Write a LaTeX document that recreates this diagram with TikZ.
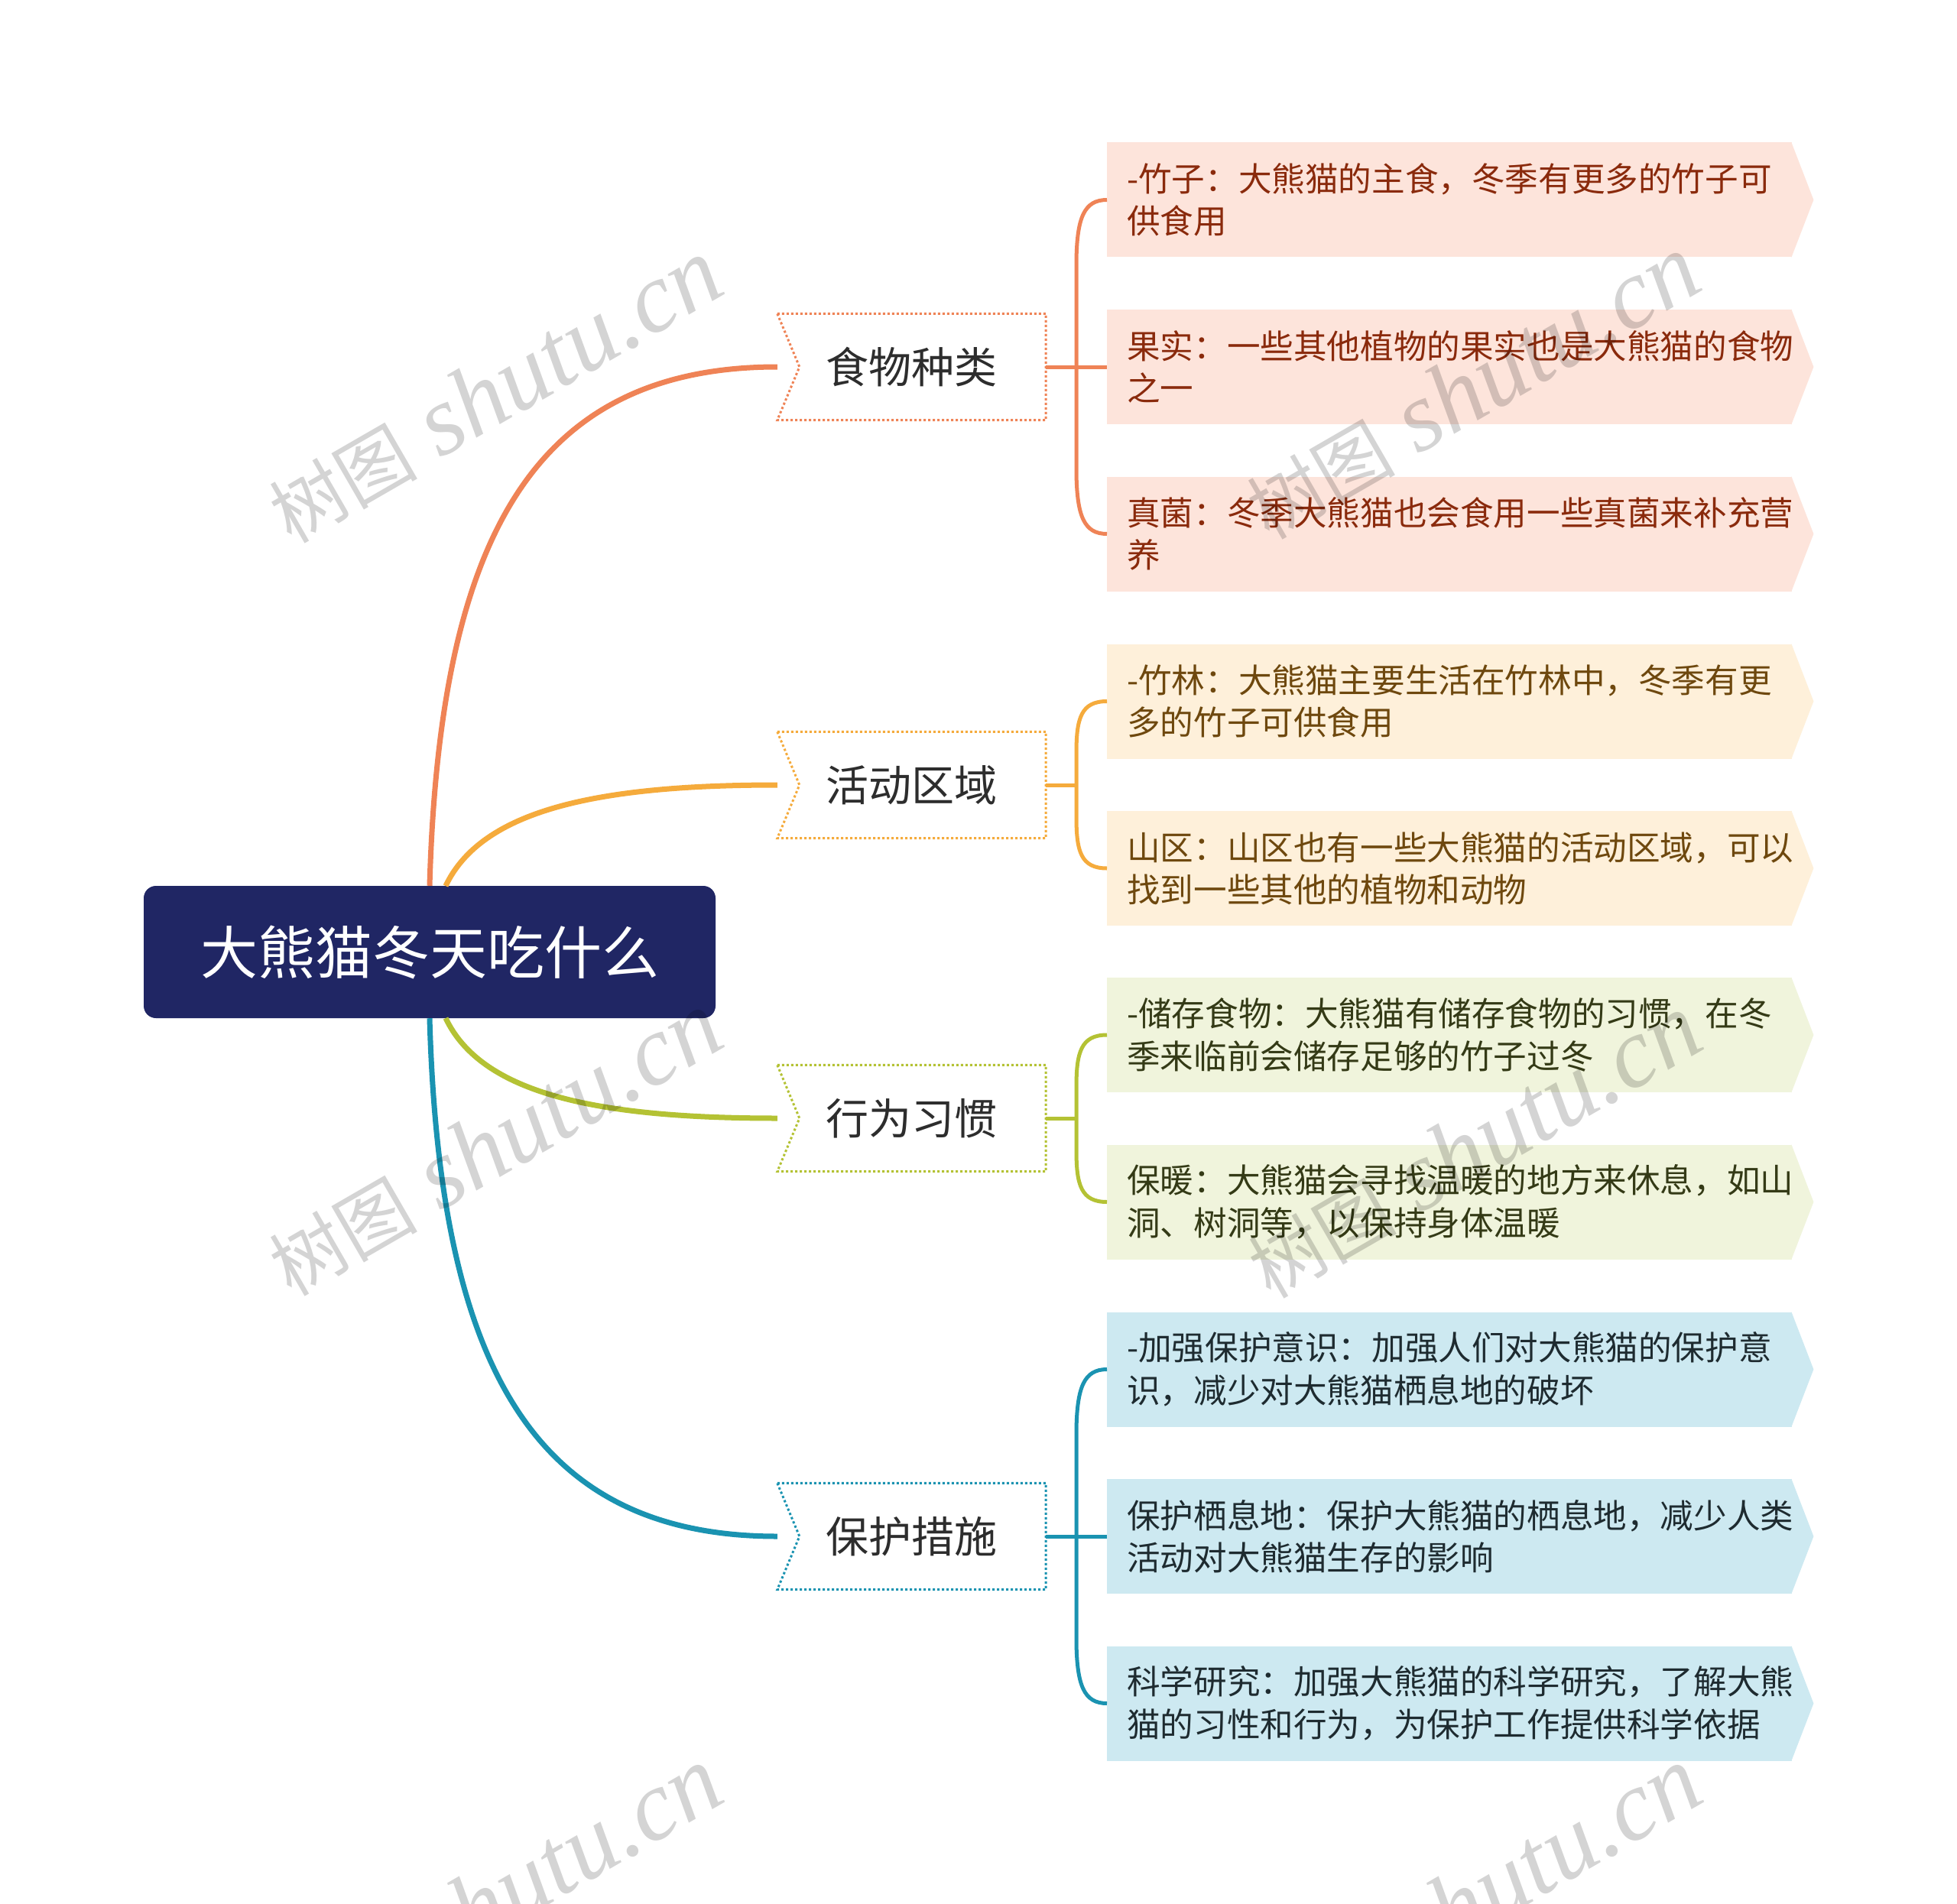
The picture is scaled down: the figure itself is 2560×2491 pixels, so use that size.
\documentclass[tikz,border=0pt]{standalone}
\usepackage{fontspec}
\setmainfont{Noto Sans CJK SC}
\newfontfamily\wmlat{Liberation Serif}
\definecolor{navy}{RGB}{32,38,100}
\definecolor{cO}{RGB}{239,131,86}
\definecolor{cA}{RGB}{245,171,60}
\definecolor{cL}{RGB}{180,194,52}
\definecolor{cT}{RGB}{26,147,177}
\definecolor{fO}{RGB}{253,228,219}
\definecolor{fA}{RGB}{254,240,218}
\definecolor{fL}{RGB}{240,244,220}
\definecolor{fT}{RGB}{205,233,241}
\definecolor{tO}{RGB}{138,42,12}
\definecolor{tA}{RGB}{110,72,14}
\definecolor{tL}{RGB}{52,58,22}
\definecolor{tT}{RGB}{30,43,48}
\definecolor{tB}{RGB}{45,45,45}
\newcommand{\leafnode}[5]{%
  \node[leafrect, fill=#3] (#1) at (1448,#2) {};
  \fill[#3] ([xshift=-1pt]#1.north east) -- ([xshift=28pt]#1.east) -- ([xshift=-1pt]#1.south east) -- cycle;
  \node[leaftext, text=#4] (#1t) at (1474,#2) {#5};
}
\newcommand{\branchnode}[4]{%
  \node[branchbox] (#1) at (1192.5,#2) {#4};
  \draw[bdot, #3] (#1.north west) -- (#1.north east) -- (#1.south east) -- (#1.south west) -- ([xshift=29pt]#1.west) -- cycle;
}
\newcommand{\wmtext}{{\fontsize{97}{97}\selectfont 树图}\hspace*{30pt}{\wmlat\itshape\fontsize{130}{130}\selectfont shutu.cn}}
\begin{document}
\begin{tikzpicture}[x=1pt,y=-1pt,
  rootbox/.style={fill=navy, rounded corners=16pt, minimum width=748pt, minimum height=173pt, inner sep=0pt, text=white, font=\fontsize{75}{90}\selectfont},
  branchbox/.style={fill=white, minimum width=351pt, minimum height=139pt, inner sep=0pt, text=tB, font=\fontsize{56}{68}\selectfont},
  bdot/.style={line width=3pt, dash pattern=on 3pt off 3pt},
  leafrect/.style={anchor=west, minimum width=896pt, minimum height=150pt, inner sep=0pt, draw=none},
  leaftext/.style={anchor=west, align=left, inner sep=0pt, font=\fontsize{43.6}{55.5}\selectfont},
  mainline/.style={line width=7pt},
  brline/.style={line width=5pt},
  wm/.style={rotate=30, text=black, opacity=0.17, inner sep=0pt}
]
\useasboundingbox (0,0) rectangle (2560,2491);
\fill[white] (0,0) rectangle (2560,2491);

% root
\node[rootbox] (root) at (562,1245.5) {大熊猫冬天吃什么};

% main connectors
\coordinate (rA) at (583,1159);
\coordinate (rL) at (583,1332);
\draw[mainline, cO] (root.north) .. controls (575,700) and (700,480) .. (1017,480);
\draw[mainline, cA] (rA) .. controls (630,1060) and (780,1027) .. (1017,1027);
\draw[mainline, cL] (rL) .. controls (630,1431) and (780,1463) .. (1017,1463);
\draw[mainline, cT] (root.south) .. controls (575,1791) and (700,2010) .. (1017,2010);

% branches
\branchnode{b1}{480}{cO}{食物种类}
\branchnode{b2}{1027}{cA}{活动区域}
\branchnode{b3}{1463}{cL}{行为习惯}
\branchnode{b4}{2010}{cT}{保护措施}

% leaves
\leafnode{l11}{261.5}{fO}{tO}{-竹子：大熊猫的主食，冬季有更多的竹子可\\供食用}
\leafnode{l12}{480}{fO}{tO}{果实：一些其他植物的果实也是大熊猫的食物\\之一}
\leafnode{l13}{698.5}{fO}{tO}{真菌：冬季大熊猫也会食用一些真菌来补充营\\养}
\leafnode{l21}{917.5}{fA}{tA}{-竹林：大熊猫主要生活在竹林中，冬季有更\\多的竹子可供食用}
\leafnode{l22}{1136}{fA}{tA}{山区：山区也有一些大熊猫的活动区域，可以\\找到一些其他的植物和动物}
\leafnode{l31}{1354}{fL}{tL}{-储存食物：大熊猫有储存食物的习惯，在冬\\季来临前会储存足够的竹子过冬}
\leafnode{l32}{1572.5}{fL}{tL}{保暖：大熊猫会寻找温暖的地方来休息，如山\\洞、树洞等，以保持身体温暖}
\leafnode{l41}{1791.5}{fT}{tT}{-加强保护意识：加强人们对大熊猫的保护意\\识，减少对大熊猫栖息地的破坏}
\leafnode{l42}{2010}{fT}{tT}{保护栖息地：保护大熊猫的栖息地，减少人类\\活动对大熊猫生存的影响}
\leafnode{l43}{2228.5}{fT}{tT}{科学研究：加强大熊猫的科学研究，了解大熊\\猫的习性和行为，为保护工作提供科学依据}

% brackets
\draw[brline, cO] (b1.east) -- (l12.west);
\draw[brline, cO] (l11.west) .. controls (1418,261.5) and (1409,285) .. (1408,340) -- (1408,620) .. controls (1409,675) and (1418,698.5) .. (l13.west);

\coordinate (j2) at (1408,1027);
\draw[brline, cA] (b2.east) -- (j2);
\draw[brline, cA] (l21.west) .. controls (1414,917.5) and (1408,940) .. (1408,985) -- (1408,1069) .. controls (1408,1114) and (1414,1136) .. (l22.west);

\coordinate (j3) at (1408,1463);
\draw[brline, cL] (b3.east) -- (j3);
\draw[brline, cL] (l31.west) .. controls (1414,1354) and (1408,1377) .. (1408,1422) -- (1408,1505) .. controls (1408,1550) and (1414,1572.5) .. (l32.west);

\draw[brline, cT] (b4.east) -- (l42.west);
\draw[brline, cT] (l41.west) .. controls (1418,1791.5) and (1409,1815) .. (1408,1870) -- (1408,2150) .. controls (1409,2205) and (1418,2228.5) .. (l43.west);

% watermarks
\begin{scope}
\clip (0,0) rectangle (2560,2491);
\node[wm] (w1) at (647,512) {\wmtext};
\node[wm] (w2) at (1926,507) {\wmtext};
\node[wm] (w3) at (647,1497) {\wmtext};
\node[wm] (w4) at (1928,1500) {\wmtext};
\node[wm] (w5) at (647,2485) {\wmtext};
\node[wm] (w6) at (1928,2485) {\wmtext};
\end{scope}
\end{tikzpicture}
\end{document}
